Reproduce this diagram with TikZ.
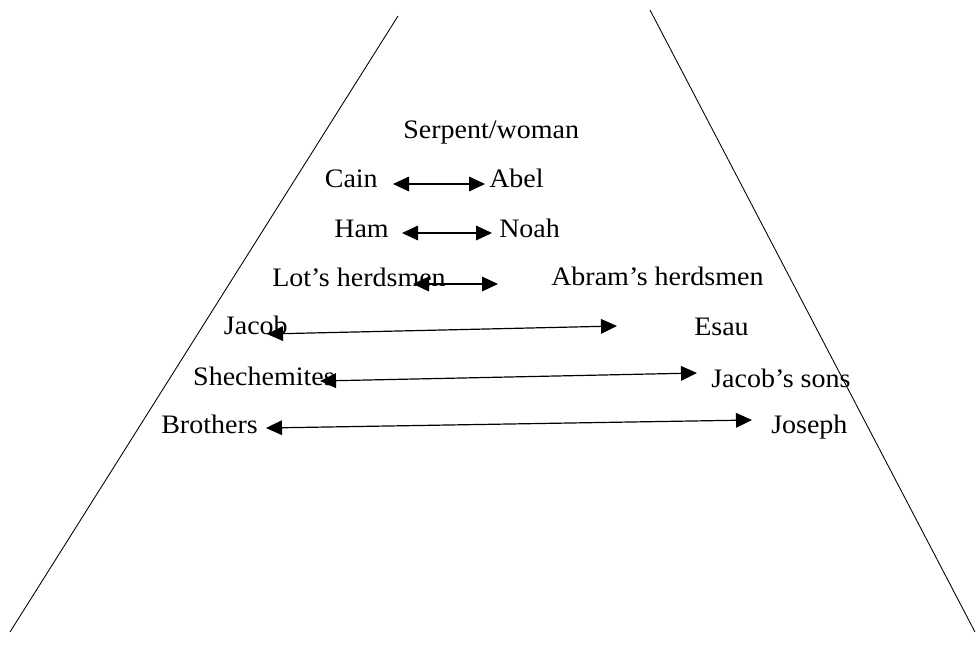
\documentclass[tikz,border=0pt]{standalone}
\usepackage{fontspec}
\setmainfont{Liberation Serif}[FakeStretch=1.05]
\usetikzlibrary{arrows.meta}
\tikzset{
  word/.style={inner sep=0pt, font=\fontsize{20}{24}\selectfont},
  pair/.style={{Triangle[length=12pt, width=11pt]}-{Triangle[length=12pt, width=11pt]}, line width=0.9pt},
  side/.style={line width=0.65pt}
}
\begin{document}
\begin{tikzpicture}[x=0.75pt, y=-0.75pt]
\useasboundingbox (0,0) rectangle (978,647);
\draw[side](398,16)--(10,632);
\draw[side](650,10)--(975,632);
%
\node[word, anchor=base west](serpent)at(403,138){Serpent/woman};
\node[word, anchor=base east](cain)at(378,187){Cain};
\node[word, anchor=base west](abel)at(489,187){Abel};
\node[word, anchor=base east](ham)at(389,237){Ham};
\node[word, anchor=base west](noah)at(499,237){Noah};
\node[word, anchor=base east](lot)at(446,286){Lot’s herdsmen};
\node[word, anchor=base west](abram)at(551,285){Abram’s herdsmen};
\node[word, anchor=base east](jacob)at(288,334){Jacob};
\node[word, anchor=base west](esau)at(694,335){Esau};
\node[word, anchor=base east](shechem)at(335,385){Shechemites};
\node[word, anchor=base west](sons)at(711,387){Jacob’s sons};
\node[word, anchor=base east](brothers)at(258,433){Brothers};
\node[word, anchor=base west](joseph)at(771,433){Joseph};
%
\draw[pair]([shift={(15,-3)}]cain.base east)--([shift={(-4,-3)}]abel.base west);
\draw[pair]([shift={(13,-4)}]ham.base east)--([shift={(-7,-4)}]noah.base west);
\draw[pair]([shift={(-33,-2)}]lot.base east)--([shift={(-53,-1)}]abram.base west);
\draw[pair]([shift={(-21,0)}]jacob.base east)--([shift={(-77,-9)}]esau.base west);
\draw[pair]([shift={(-15,-4)}]shechem.base east)--([shift={(-14,-14)}]sons.base west);
\draw[pair]([shift={(8,-5)}]brothers.base east)--([shift={(-19,-13)}]joseph.base west);
\end{tikzpicture}
\end{document}
